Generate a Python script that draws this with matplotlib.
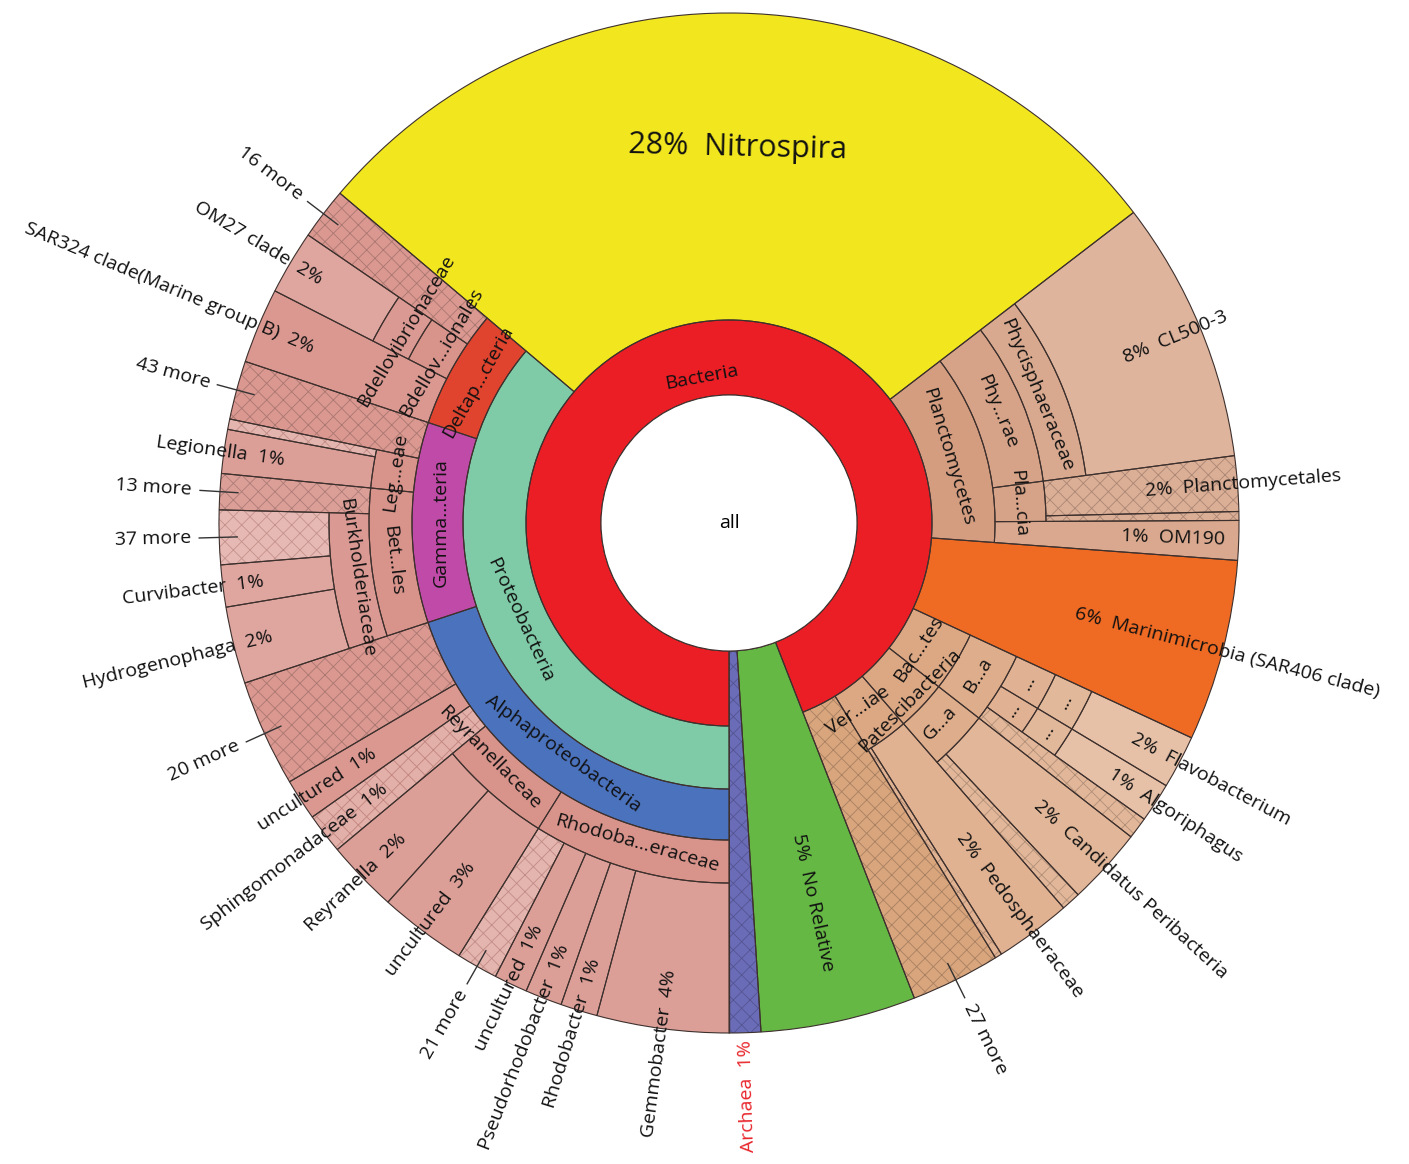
import matplotlib
matplotlib.use("Agg")
import matplotlib.pyplot as plt
from matplotlib.patches import Wedge, Circle
from matplotlib.textpath import TextPath
from matplotlib.font_manager import FontProperties, fontManager
from matplotlib.colors import to_rgb
import numpy as np
import re

P = "Bacteria/Proteobacteria/"

# leaf values (% of all reads), in drawing order, counter-clockwise from 6 o'clock
root_leaves = [("Archaea", 1.00), ("No Relative", 4.92)]

minor_phyla = [
    ("Bacteria/27 more", 2.83),
    ("Bacteria/Ver...iae/#a", 0.22),
    ("Bacteria/Ver...iae/Pedosphaeraceae", 2.42),
    ("Bacteria/Patescibacteria/G...a/#b", 0.61),
    ("Bacteria/Patescibacteria/G...a/Candidatus Peribacteria", 2.45),
    ("Bacteria/Bac...tes/B...a/#c", 0.69),
    ("Bacteria/Bac...tes/B...a/...#1/...#2/Algoriphagus", 1.25),
    ("Bacteria/Bac...tes/B...a/...#3/...#4/Flavobacterium", 1.69),
    ("Bacteria/Marinimicrobia (SAR406 clade)", 5.75),
]

planctomycetes = [
    ("Bacteria/Planctomycetes/OM190", 1.25),
    ("Bacteria/Planctomycetes/Pla...cia/#d", 0.28),
    ("Bacteria/Planctomycetes/Pla...cia/Planctomycetales", 1.75),
    ("Bacteria/Planctomycetes/Phy...rae/Phycisphaeraceae/CL500-3", 8.31),
]

nitrospira = [("Bacteria/Nitrospira", 28.39)]

delta = [
    (P + "Deltap...cteria/16 more", 1.64),
    (P + "Deltap...cteria/Bdellov...ionales/Bdellovibrionaceae/OM27 clade", 2.03),
    (P + "Deltap...cteria/SAR324 clade(Marine group B)", 2.39),
]

gamma = [
    (P + "Gamma...teria/43 more", 1.86),
    (P + "Gamma...teria/Leg...eae/#e", 0.33),
    (P + "Gamma...teria/Leg...eae/Legionella", 1.39),
    (P + "Gamma...teria/Bet...les/13 more", 1.14),
    (P + "Gamma...teria/Bet...les/Burkholderiaceae/37 more", 1.72),
    (P + "Gamma...teria/Bet...les/Burkholderiaceae/Curvibacter", 1.33),
    (P + "Gamma...teria/Bet...les/Burkholderiaceae/Hydrogenophaga", 2.44),
]

alpha = [
    (P + "Alphaproteobacteria/20 more", 3.39),
    (P + "Alphaproteobacteria/uncultured", 1.31),
    (P + "Alphaproteobacteria/Sphingomonadaceae", 1.28),
    (P + "Alphaproteobacteria/Reyranellaceae/Reyranella", 2.28),
    (P + "Alphaproteobacteria/Reyranellaceae/uncultured", 2.78),
    (P + "Alphaproteobacteria/Rhodoba...eraceae/21 more", 1.31),
    (P + "Alphaproteobacteria/Rhodoba...eraceae/uncultured", 1.06),
    (P + "Alphaproteobacteria/Rhodoba...eraceae/Pseudorhodobacter", 1.17),
    (P + "Alphaproteobacteria/Rhodoba...eraceae/Rhodobacter", 1.17),
    (P + "Alphaproteobacteria/Rhodoba...eraceae/Gemmobacter", 4.19),
]

LEAVES = root_leaves + minor_phyla + planctomycetes + nitrospira + delta + gamma + alpha

# ---- geometry / style ----
W, H = 1409, 1164
CX, CY = 729, H - 523
RINGS = [128, 203, 266, 317, 360, 400]
R_OUT = 510
EDGE = "#3d302d"

avail = {f.name for f in fontManager.ttflist}
if "Liberation Sans Narrow" in avail:
    FONT, FS, FS_BIG = "Liberation Sans Narrow", 18, 28
else:
    FONT, FS, FS_BIG = "Open Sans", 14, 22
plt.rcParams["font.family"] = [FONT, "DejaVu Sans"]
plt.rcParams["hatch.linewidth"] = 0.6

COLORS = {
    "Archaea": "#6b6cb8",
    "No Relative": "#66b845",
    "Bacteria": "#eb1d25",
    "Bacteria/Nitrospira": "#f2e71f",
    "Bacteria/Marinimicrobia (SAR406 clade)": "#ef6a23",
    "Bacteria/Proteobacteria": "#7fcba7",
    P + "Deltap...cteria": "#e0442e",
    P + "Gamma...teria": "#c04aa7",
    P + "Alphaproteobacteria": "#4a72bd",
    "Bacteria/27 more": "#d8a57d",
}
BRANCHES = [
    (P, "#d8938b", 4),
    ("Bacteria/Planctomycetes", "#d49d80", 2),
    ("Bacteria/Ver...iae", "#dca884", 2),
    ("Bacteria/Patescibacteria", "#dca884", 2),
    ("Bacteria/Bac...tes", "#dca884", 2),
]
HATCHED = {"Archaea", "Sphingomonadaceae", "Planctomycetales"}
LIGHT_HATCH = {"37 more", "21 more", "Sphingomonadaceae", "#e"}
TEXT_COLOR = {"Archaea": "#e8262c"}

# where radial leaf labels begin (inner end of the text)
LABEL_R = {
    "No Relative": 318,
    "Archaea": 517,
    "Bacteria/Ver...iae/Pedosphaeraceae": 388,
    "Bacteria/Patescibacteria/G...a/Candidatus Peribacteria": 416,
    "Bacteria/Bac...tes/B...a/...#1/...#2/Algoriphagus": 455,
    "Bacteria/Bac...tes/B...a/...#3/...#4/Flavobacterium": 457,
    "Bacteria/Marinimicrobia (SAR406 clade)": 357,
    "Bacteria/Planctomycetes/OM190": 392,
    "Bacteria/Planctomycetes/Pla...cia/Planctomycetales": 418,
    "Bacteria/Planctomycetes/Phy...rae/Phycisphaeraceae/CL500-3": 428,
    P + "Deltap...cteria/SAR324 clade(Marine group B)": 451,
    P + "Deltap...cteria/Bdellov...ionales/Bdellovibrionaceae/OM27 clade": 474,
    P + "Gamma...teria/Leg...eae/Legionella": 449,
    P + "Gamma...teria/Bet...les/Burkholderiaceae/Curvibacter": 469,
    P + "Gamma...teria/Bet...les/Burkholderiaceae/Hydrogenophaga": 470,
    P + "Alphaproteobacteria/uncultured": 422,
    P + "Alphaproteobacteria/Sphingomonadaceae": 433,
    P + "Alphaproteobacteria/Reyranellaceae/Reyranella": 452,
    P + "Alphaproteobacteria/Reyranellaceae/uncultured": 427,
    P + "Alphaproteobacteria/Rhodoba...eraceae/uncultured": 446,
    P + "Alphaproteobacteria/Rhodoba...eraceae/Pseudorhodobacter": 453,
    P + "Alphaproteobacteria/Rhodoba...eraceae/Rhodobacter": 456,
    P + "Alphaproteobacteria/Rhodoba...eraceae/Gemmobacter": 451,
}
# ring labels that Krona nudged to avoid collisions
TANGENT_R = {
    "Bacteria": 150,
    "Bacteria/Ver...iae": 229,
    "Bacteria/Bac...tes": 229,
    "Bacteria/Patescibacteria": 258,
}
TANGENT_A = {
    "Bacteria/Ver...iae": 304.5,
    "Bacteria/Bac...tes": 326.5,
    "Bacteria/Patescibacteria": 315.5,
    P + "Alphaproteobacteria/Reyranellaceae": 224.5,
}


def mix(c, t, target=(1, 1, 1)):
    rgb = np.array(to_rgb(c))
    return tuple(rgb + (np.array(target) - rgb) * t)


def node_color(k, depth, leaf):
    if k in COLORS:
        return COLORS[k]
    for prefix, base, d0 in BRANCHES:
        if k.startswith(prefix):
            return mix(base, 0.06 * (depth - d0) + (0.05 if leaf else 0))
    return "#cccccc"


def polar(r, a):
    t = np.radians(a)
    return CX + r * np.cos(t), CY + r * np.sin(t)


def text_width(s, size):
    fp = FontProperties(family=FONT)
    return TextPath((0, 0), s, size=size * 100 / 72, prop=fp).get_extents().width


def is_more(name):
    return re.match(r"^\d+ more$", name) is not None


# ---- build tree from leaves ----
value, kids = {}, {"": []}
for path, v in LEAVES:
    parts = path.split("/")
    for i in range(1, len(parts) + 1):
        key = "/".join(parts[:i])
        par = "/".join(parts[:i - 1])
        if key not in value:
            value[key] = 0.0
            kids.setdefault(par, []).append(key)
        value[key] += v

spans = {}


def layout(parent, start):
    a = start
    for k in kids.get(parent, []):
        w = value[k] * 3.6
        spans[k] = (a, a + w)
        layout(k, a)
        a += w


layout("", 270.0)

fig = plt.figure(figsize=(W / 100, H / 100), dpi=100)
ax = fig.add_axes([0, 0, 1, 1])
ax.set_xlim(0, W)
ax.set_ylim(0, H)
ax.axis("off")

for k, (a0, a1) in spans.items():
    depth = k.count("/") + 1
    leaf = not kids.get(k)
    r_in = RINGS[depth - 1]
    r_out = R_OUT if leaf else RINGS[depth]
    name = k.split("/")[-1]
    col = node_color(k, depth, leaf)
    hatched = is_more(name) or name.startswith("#") or name in HATCHED
    if hatched:
        if name in LIGHT_HATCH:
            face, hcol = mix(col, 0.22), mix(col, 0.12, (0, 0, 0))
        else:
            face, hcol = col, mix(col, 0.22, (0, 0, 0))
        ax.add_patch(Wedge((CX, CY), r_out, a0, a1, width=r_out - r_in,
                           facecolor=face, edgecolor=hcol, hatch="xx", lw=0, zorder=1))
    else:
        ax.add_patch(Wedge((CX, CY), r_out, a0, a1, width=r_out - r_in,
                           facecolor=col, lw=0, zorder=1))
    ax.add_patch(Wedge((CX, CY), r_out, a0, a1, width=r_out - r_in,
                       fill=False, edgecolor=EDGE, lw=0.8, zorder=2))

ax.add_patch(Circle((CX, CY), RINGS[0], facecolor="white", edgecolor=EDGE, lw=0.8, zorder=2))
ax.text(CX, CY, "all", ha="center", va="center", fontsize=FS, zorder=3)


def tangent_label(s, mid, r, size=FS, color="#111111"):
    L = text_width(s, size)
    rc = r - L * L / (8 * r) / 2
    x, y = polar(rc, mid)
    m = mid % 360
    rot = m - 90 if m < 180 else m + 90
    ax.text(x, y, s, rotation=rot, rotation_mode="anchor", ha="center", va="center",
            fontsize=size, color=color, zorder=3)


def radial_label(s_right, s_left, mid, r, color="#111111"):
    x, y = polar(r, mid)
    if np.cos(np.radians(mid)) > 0.05:
        ax.text(x, y, s_right, rotation=mid % 360, rotation_mode="anchor", ha="left",
                va="center", fontsize=FS, color=color, zorder=3)
    else:
        ax.text(x, y, s_left, rotation=(mid - 180) % 360, rotation_mode="anchor",
                ha="right", va="center", fontsize=FS, color=color, zorder=3)


for k, (a0, a1) in spans.items():
    depth = k.count("/") + 1
    leaf = not kids.get(k)
    name = k.split("/")[-1].split("#")[0]
    if not name:
        continue
    mid = (a0 + a1) / 2
    if k == "Bacteria/Nitrospira":
        tangent_label("%d%%  %s" % (round(value[k]), name), mid, 383, size=FS_BIG)
    elif not leaf:
        r = TANGENT_R.get(k, (RINGS[depth - 1] + RINGS[depth]) / 2)
        tangent_label(name, TANGENT_A.get(k, mid), r)
    elif is_more(name):
        x0, y0 = polar(492, mid)
        x1, y1 = polar(530, mid)
        ax.plot([x0, x1], [y0, y1], color="#333333", lw=1, zorder=3)
        radial_label(name, name, mid, 538)
    else:
        pct = "%d%%" % round(value[k])
        radial_label("%s  %s" % (pct, name), "%s  %s" % (name, pct), mid,
                     LABEL_R.get(k, 450), color=TEXT_COLOR.get(k, "#111111"))

fig.savefig("out.png", dpi=100)
